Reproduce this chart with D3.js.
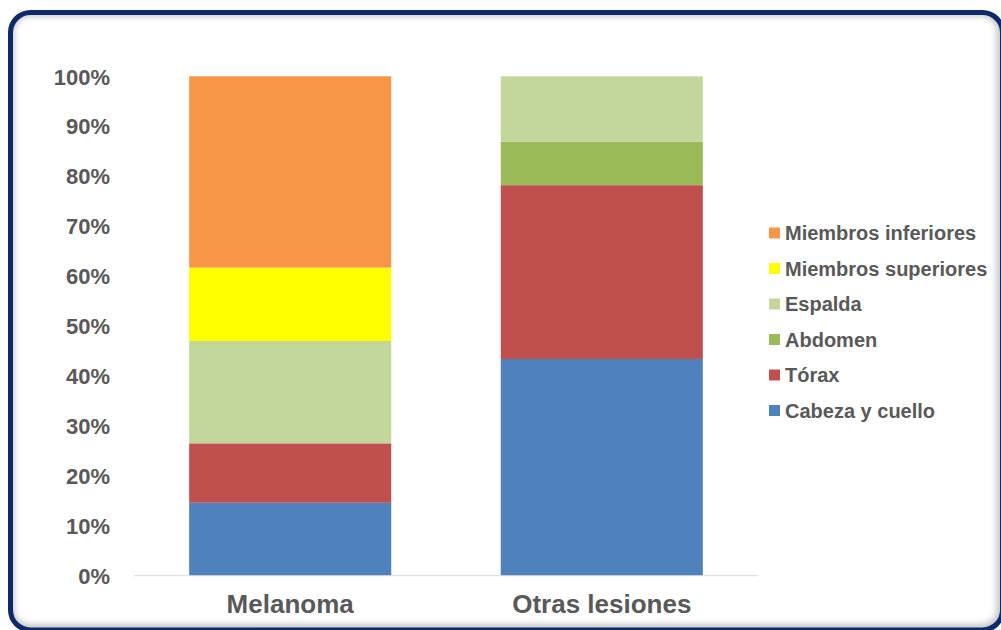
<!DOCTYPE html>
<html><head><meta charset="utf-8">
<script src="https://cdn.jsdelivr.net/npm/d3@7"></script>
<style>html,body{margin:0;padding:0;background:#fff;}svg{display:block;}</style>
</head><body>
<svg id="chart" width="1001" height="630"></svg>
<script>
const categories = ["Melanoma", "Otras lesiones"];
const seriesNames = ["Cabeza y cuello", "Tórax", "Abdomen", "Espalda", "Miembros superiores", "Miembros inferiores"];
const cabeza = [14.6, 43.4];
const torax = [11.9, 34.8];
const abdomen = [0, 8.7];
const espalda = [20.5, 13.1];
const superiores = [14.7, 0];
const inferiores = [38.3, 0];
const seriesColors = ["#4F81BD", "#C0504D", "#9BBB59", "#C3D69B", "#FFFF00", "#F79646"];
const yTicks = [0, 10, 20, 30, 40, 50, 60, 70, 80, 90, 100];

const seriesValues = [cabeza, torax, abdomen, espalda, superiores, inferiores];
const rows = categories.map((c, i) => {
  const r = {cat: c};
  seriesNames.forEach((s, j) => r[s] = seriesValues[j][i]);
  return r;
});
const stacked = d3.stack().keys(seriesNames)(rows);

const svg = d3.select("#chart");
const defs = svg.append("defs");

// frame
const fx = 10.5, fy = 12.5, fw = 992, fh = 617.5, fr = 20;
defs.append("clipPath").attr("id", "frameClip")
  .append("rect").attr("x", fx).attr("y", fy).attr("width", fw).attr("height", fh).attr("rx", fr);
const blur = defs.append("filter").attr("id", "blur").attr("x", "-10%").attr("y", "-10%").attr("width", "120%").attr("height", "120%");
blur.append("feGaussianBlur").attr("stdDeviation", 3);

svg.append("rect").attr("x", fx).attr("y", fy).attr("width", fw).attr("height", fh).attr("rx", fr).attr("fill", "#fff");
svg.append("g").attr("clip-path", "url(#frameClip)")
  .append("rect").attr("x", fx - 1).attr("y", fy - 1).attr("width", fw).attr("height", fh).attr("rx", fr)
  .attr("fill", "none").attr("stroke", "#a0a0a0").attr("stroke-width", 10).attr("opacity", 0.6)
  .attr("filter", "url(#blur)");

const x = d3.scaleBand().domain(categories).range([134, 758]).paddingInner(0.3515).paddingOuter(0.177);
const y = d3.scaleLinear().domain([0, 100]).range([575.7, 76.3]);

const g = svg.append("g");
g.selectAll("g.series").data(stacked).join("g").attr("class", "series")
  .attr("fill", (d, i) => seriesColors[i])
  .selectAll("rect").data(d => d).join("rect")
  .attr("x", d => x(d.data.cat))
  .attr("width", x.bandwidth())
  .attr("y", d => y(d[1]))
  .attr("height", d => Math.max(0, y(d[0]) - y(d[1])));

// axis line
g.append("line").attr("x1", 134).attr("x2", 758).attr("y1", y(0)).attr("y2", y(0))
  .attr("stroke", "#d9d9d9").attr("stroke-width", 1);

// y axis
const yAxis = d3.axisLeft(y).tickValues(yTicks).tickFormat(d => d + "%").tickSize(0).tickPadding(0);
const ya = svg.append("g").attr("transform", "translate(110,0)").call(yAxis);
ya.select(".domain").remove();
ya.selectAll("text").attr("fill", "#595959").attr("font-family", "Liberation Sans, Arial, sans-serif")
  .attr("font-weight", "bold").attr("font-size", 22).attr("dy", "0.35em");

// x axis
const xAxis = d3.axisBottom(x).tickSize(0).tickPadding(0);
const xa = svg.append("g").attr("transform", "translate(0,590)").call(xAxis);
xa.select(".domain").remove();
xa.selectAll("text").attr("fill", "#595959").attr("font-family", "Liberation Sans, Arial, sans-serif")
  .attr("font-weight", "bold").attr("font-size", 26).attr("dy", "0.88em");

// legend
const legendOrder = seriesNames.map((s, i) => ({name: s, color: seriesColors[i]})).reverse();
const legY = d3.scalePoint().domain(legendOrder.map(d => d.name)).range([233, 410.5]);
const lg = svg.append("g");
const items = lg.selectAll("g").data(legendOrder).join("g")
  .attr("transform", d => `translate(769,${legY(d.name)})`);
items.append("rect").attr("x", 0).attr("y", -5.5).attr("width", 11).attr("height", 11).attr("fill", d => d.color);
items.append("text").attr("x", 16).attr("dy", "0.35em").text(d => d.name)
  .attr("fill", "#595959").attr("font-family", "Liberation Sans, Arial, sans-serif")
  .attr("font-weight", "bold").attr("font-size", 20);

// navy border
svg.append("rect").attr("x", fx).attr("y", fy).attr("width", fw).attr("height", fh).attr("rx", fr)
  .attr("fill", "none").attr("stroke", "#0E2A6B").attr("stroke-width", 5);
</script>
</body></html>
